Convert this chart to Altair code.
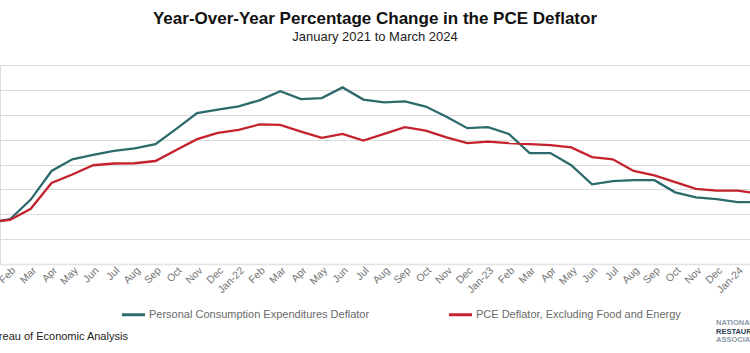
import altair as alt
import pandas as pd

month_labels = ["Jan-21", "Feb", "Mar", "Apr", "May", "Jun", "Jul", "Aug", "Sep", "Oct", "Nov", "Dec",
                "Jan-22", "Feb", "Mar", "Apr", "May", "Jun", "Jul", "Aug", "Sep", "Oct", "Nov", "Dec",
                "Jan-23", "Feb", "Mar", "Apr", "May", "Jun", "Jul", "Aug", "Sep", "Oct", "Nov", "Dec",
                "Jan-24", "Feb", "Mar"]

pce = [1.65, 1.80, 2.59, 3.74, 4.21, 4.39, 4.55, 4.65, 4.82, 5.43, 6.07, 6.21,
       6.34, 6.58, 6.95, 6.63, 6.67, 7.10, 6.61, 6.50, 6.54, 6.33, 5.92, 5.46,
       5.50, 5.23, 4.46, 4.46, 3.97, 3.20, 3.33, 3.37, 3.37, 2.88, 2.68, 2.61,
       2.49, 2.49, 2.70]

core = [1.70, 1.77, 2.22, 3.26, 3.60, 3.97, 4.04, 4.05, 4.14, 4.58, 5.02, 5.27,
        5.39, 5.61, 5.59, 5.32, 5.07, 5.23, 4.96, 5.23, 5.50, 5.36, 5.09, 4.86,
        4.92, 4.86, 4.82, 4.78, 4.69, 4.30, 4.21, 3.74, 3.56, 3.29, 3.02, 2.95,
        2.95, 2.83, 2.80]

series_names = ["Personal Consumption Expenditures Deflator",
                "PCE Deflator, Excluding Food and Energy"]
series_colors = ["#2c6a6c", "#c4222c"]

rows = []
for i in range(len(month_labels)):
    rows.append({"idx": i, "label": month_labels[i], "series": series_names[0], "value": pce[i]})
    rows.append({"idx": i, "label": month_labels[i], "series": series_names[1], "value": core[i]})
df = pd.DataFrame(rows)

label_array = "[" + ",".join("'" + m + "'" for m in month_labels) + "]"

lines = alt.Chart(df).mark_line(strokeWidth=2.3, clip=True).encode(
    x=alt.X("idx:Q",
            scale=alt.Scale(domain=[0.52, 36.6], nice=False, zero=False),
            axis=alt.Axis(values=list(range(1, 38)), labelExpr=label_array + "[datum.value]",
                          labelAngle=-45, labelFontSize=10.5, labelColor="#757575",
                          labelOverlap=False, labelBound=False,
                          ticks=False, grid=False, domainColor="#e3e3e3", domainWidth=1.5,
                          labelPadding=1, title=None)),
    y=alt.Y("value:Q",
            scale=alt.Scale(domain=[0, 8], nice=False),
            axis=alt.Axis(values=list(range(0, 9)), labels=False, ticks=False, domain=False,
                          grid=True, gridColor="#dcdcdc", gridWidth=1.2, title=None)),
    color=alt.Color("series:N",
                    scale=alt.Scale(domain=series_names, range=series_colors),
                    sort=series_names,
                    legend=alt.Legend(title=None, orient="none", direction="horizontal",
                                      legendX=120, legendY=236, symbolType="stroke",
                                      symbolSize=530, symbolStrokeWidth=3, labelFontSize=11,
                                      labelColor="#6a6a6a", columnPadding=72, labelOffset=2,
                                      labelLimit=400)),
)

source_df = pd.DataFrame({"t": ["Source: U.S. Bureau of Economic Analysis"]})
source = alt.Chart(source_df).mark_text(align="left", baseline="middle", fontSize=11,
                                        color="#222222").encode(
    x=alt.value(-80), y=alt.value(272), text="t:N")

logo_df = pd.DataFrame({"t": ["NATIONAL", "RESTAURANT", "ASSOCIATION"],
                        "yy": [258, 267, 275],
                        "c": ["#8a9aa8", "#2e3f55", "#8a9aa8"]})
logo = alt.Chart(logo_df).mark_text(align="left", baseline="middle", fontSize=7.5,
                                    fontWeight="bold").encode(
    x=alt.value(716), y=alt.Y("yy:Q", scale=None), text="t:N",
    color=alt.Color("c:N", scale=None))

chart = alt.layer(lines, source, logo).properties(
    width=750, height=199,
    autosize=alt.AutoSizeParams(type="none"),
    padding={"left": 0, "top": 65, "right": 0, "bottom": 89},
    title=alt.TitleParams(text="Year-Over-Year Percentage Change in the PCE Deflator",
                          subtitle="January 2021 to March 2024",
                          fontSize=17, fontWeight="bold", color="#111111",
                          subtitleFontSize=13, subtitleColor="#222222",
                          anchor="middle", offset=20, subtitlePadding=3),
).configure_view(stroke=None).configure(font="Liberation Sans", background="white")

chart.save("out.html", embed_options={"renderer": "svg", "actions": False})
